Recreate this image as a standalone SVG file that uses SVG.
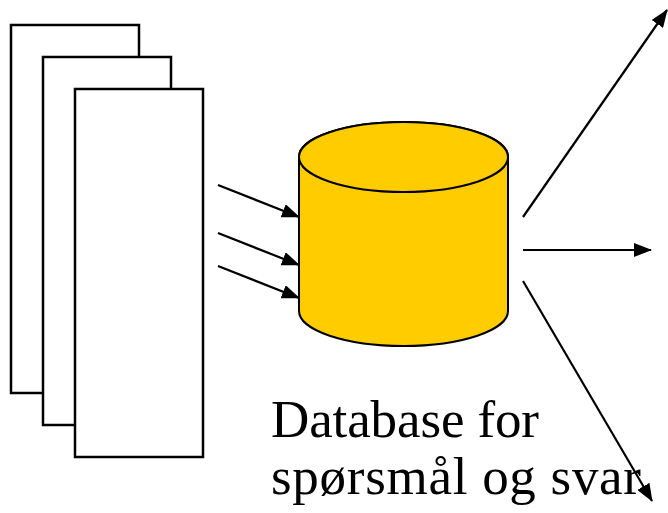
<svg xmlns="http://www.w3.org/2000/svg" width="668" height="513" viewBox="0 0 668 513">
<style>
.doc{fill:#fff;stroke:#000;stroke-width:2.5}
.cyl{fill:#ffcc00;stroke:#000;stroke-width:2}
.ar{stroke:#000;stroke-width:2.2;fill:none;marker-end:url(#ah)}
.lbl{font-family:"Liberation Serif","Times New Roman",serif;font-size:53px;fill:#000}
</style>
<defs>
<marker id="ah" viewBox="0 0 18 14" refX="17" refY="7" markerWidth="18" markerHeight="14" markerUnits="userSpaceOnUse" orient="auto">
<path d="M0,0 L18,7 L0,14 z" fill="#000"/>
</marker>
</defs>
<rect width="668" height="513" fill="#fff"/>
<g id="doc1"><rect class="doc" x="11" y="25" width="128" height="368"/></g>
<g id="doc2"><rect class="doc" x="43" y="57" width="128" height="368"/></g>
<g id="doc3"><rect class="doc" x="75" y="89" width="128" height="368"/></g>
<g id="database">
<path class="cyl" d="M299,157 L299,311 A104.5,35 0 0 0 508,311 L508,157 A104.5,35 0 0 0 299,157 Z"/>
<ellipse class="cyl" cx="403.5" cy="157" rx="104.5" ry="35"/>
</g>
<g id="connectors">
<line class="ar" x1="218" y1="185" x2="299" y2="217"/>
<line class="ar" x1="218" y1="233" x2="299" y2="265"/>
<line class="ar" x1="218" y1="266" x2="299" y2="298"/>
<line class="ar" x1="523" y1="217" x2="667" y2="10"/>
<line class="ar" x1="523" y1="250" x2="651" y2="250"/>
<line class="ar" x1="523" y1="281" x2="652" y2="501"/>
</g>
<g id="label">
<text class="lbl" x="271" y="437" textLength="268" lengthAdjust="spacing">Database for</text>
<text class="lbl" x="271" y="494" textLength="370" lengthAdjust="spacing">spørsmål og svar</text>
</g>
</svg>
